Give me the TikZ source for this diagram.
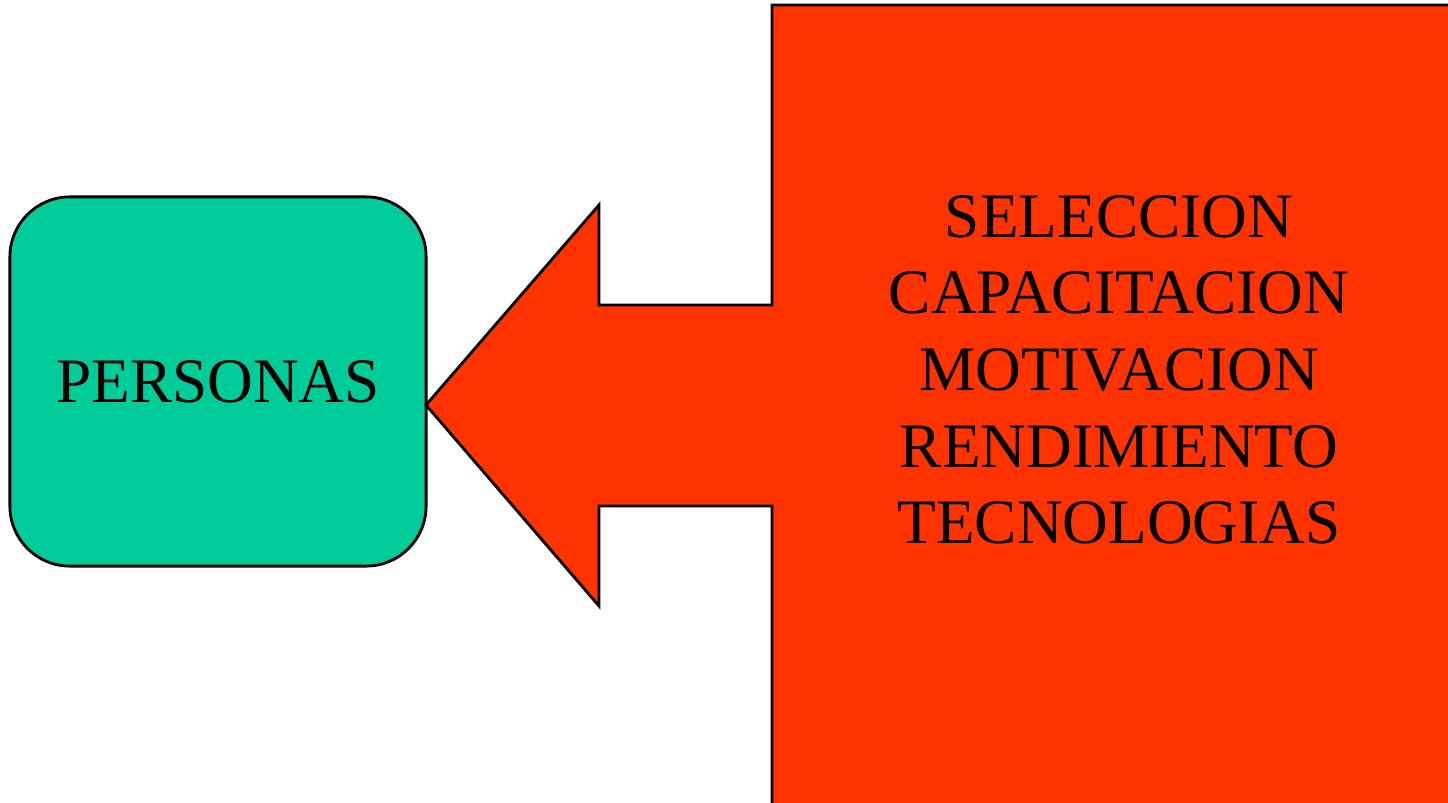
\documentclass[tikz,border=0pt]{standalone}
\usepackage{fontspec}
\setmainfont{Liberation Serif}
\usetikzlibrary{calc}

\definecolor{personasverde}{HTML}{00CC99}
\definecolor{flecharoja}{HTML}{FF3300}

\tikzset{
  caja/.style={draw, line width=0.8pt, fill=personasverde, rounded corners=0.6cm,
    minimum width=4.16cm, minimum height=3.69cm, inner sep=0pt,
    font=\fontsize{18}{21.8}\selectfont},
  flecha/.style={draw, line width=0.8pt, fill=flecharoja},
  lista/.style={align=center, inner sep=0pt, font=\fontsize{18}{21.8}\selectfont}
}

\begin{document}
\begin{tikzpicture}[x=0.01cm, y=-0.01cm]
    \useasboundingbox (0, 0) rectangle (1448, 803);
    \clip (0, 0) rectangle (1448, 803);

    %% caja izquierda
    \node[caja] (personas) at (218, 381.5) {PERSONAS};

    %% flecha grande
    \coordinate (punta) at (426, 405);
    \draw[flecha] (772, 5) -- (1470, 5) -- (1470, 820) -- (772, 820) -- (772, 506)
         -- (599, 506) -- (599, 606) -- (punta) -- (599, 205) -- (599, 305)
         -- (772, 305) -- cycle;

    %% texto de la flecha
    \node[lista] (factores) at (1119, 370)
         {SELECCION\\CAPACITACION\\MOTIVACION\\RENDIMIENTO\\TECNOLOGIAS};
\end{tikzpicture}
\end{document}
